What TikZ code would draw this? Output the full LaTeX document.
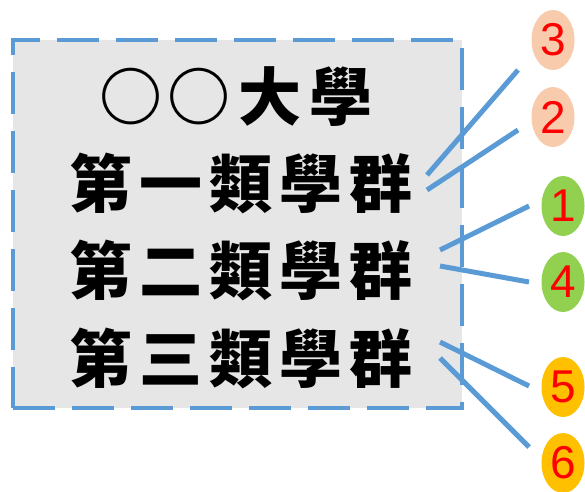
\documentclass[tikz,border=0pt]{standalone}
\usepackage{fontspec}
\setmainfont{Liberation Sans}
\newfontfamily\cjkfont{Noto Sans CJK TC}
\usetikzlibrary{shapes.geometric}
\definecolor{peach}{HTML}{F8CBAD}
\definecolor{lgreen}{HTML}{92D050}
\definecolor{gold}{HTML}{FFC000}
\definecolor{blueln}{HTML}{5B9BD5}
\definecolor{boxgray}{HTML}{E6E6E6}
\begin{document}
\begin{tikzpicture}[x=1pt,y=-1pt,
  framebox/.style={draw=blueln,line width=4.5pt,fill=boxgray,dash pattern=on 42pt off 17pt,minimum width=449pt,minimum height=368pt,inner sep=0pt},
  cjkline/.style={inner sep=0pt,font=\cjkfont\bfseries\fontsize{63pt}{63pt}\selectfont},
  badge/.style={ellipse,minimum width=43pt,minimum height=60pt,inner sep=0pt,text=red,font=\fontsize{46pt}{46pt}\selectfont},
  link/.style={draw=blueln,line width=5pt}]
\useasboundingbox (0,0) rectangle (585,491);
\node[framebox] (frame) at (237.5,224) {};
\node[cjkline] (t1) at (236,97) {○\hspace{6pt}○\hspace{8pt}大\hspace{8pt}學};
\node[cjkline] (t2) at (241,183) {第\hspace{7pt}一\hspace{7pt}類\hspace{7pt}學\hspace{7pt}群};
\node[cjkline] (t3) at (241,270) {第\hspace{7pt}二\hspace{7pt}類\hspace{7pt}學\hspace{7pt}群};
\node[cjkline] (t4) at (241,358) {第\hspace{7pt}三\hspace{7pt}類\hspace{7pt}學\hspace{7pt}群};
\node[badge,fill=peach] (c3) at (553,40) {3};
\node[badge,fill=peach] (c2) at (553,117) {2};
\node[badge,fill=lgreen] (c1) at (563,206) {1};
\node[badge,fill=lgreen] (c4) at (563,282) {4};
\node[badge,fill=gold] (c5) at (563,387) {5};
\node[badge,fill=gold] (c6) at (563,463) {6};
\coordinate (a3) at (427,175); \coordinate (b3) at (518,70);
\coordinate (a2) at (427,190); \coordinate (b2) at (518,130);
\coordinate (a1) at (440,250); \coordinate (b1) at (529,206);
\coordinate (a4) at (440,266); \coordinate (b4) at (529,282);
\coordinate (a5) at (440,342); \coordinate (b5) at (529,386);
\coordinate (a6) at (440,358); \coordinate (b6) at (529,447);
\draw[link] (a3) -- (b3);
\draw[link] (a2) -- (b2);
\draw[link] (a1) -- (b1);
\draw[link] (a4) -- (b4);
\draw[link] (a5) -- (b5);
\draw[link] (a6) -- (b6);
\end{tikzpicture}
\end{document}
